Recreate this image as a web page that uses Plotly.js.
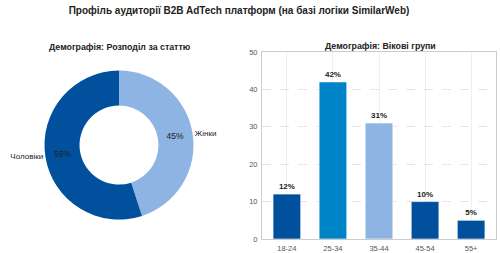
<!DOCTYPE html>
<html><head><meta charset="utf-8">
<script src="https://cdn.plot.ly/plotly-3.0.1.min.js"></script>
<style>html,body{margin:0;padding:0;background:#fff}#c{width:500px;height:253px}</style>
</head><body><div id="c"></div>
<script>
const genderLabels = ['Жінки', 'Чоловіки'];
const genderValues = [45, 55];
const genderColors = ['#8DB4E2', '#00509E'];

const ageGroups = ['18-24', '25-34', '35-44', '45-54', '55+'];
const ageValues = [12, 42, 31, 10, 5];
const ageColors = ['#00509E', '#0084C8', '#8DB4E2', '#00509E', '#00509E'];

const mainTitle = 'Профіль аудиторії B2B AdTech платформ (на базі логіки SimilarWeb)';
const pieTitle = 'Демографія: Розподіл за статтю';
const barTitle = 'Демографія: Вікові групи';

const FONT = 'Liberation Sans, Arial, sans-serif';
const pieDomain = {x: [0.089, 0.387], y: [0.132, 0.721]};

const traces = [
  {
    type: 'pie', labels: genderLabels, values: genderValues, sort: false,
    direction: 'clockwise', rotation: 0, hole: 0.53,
    domain: pieDomain,
    marker: {colors: genderColors},
    textinfo: 'percent', textposition: 'inside', insidetextorientation: 'horizontal',
    texttemplate: '%{percent:.0%}',
    insidetextfont: {family: FONT, size: 8.5, color: '#222'},
    showlegend: false, hoverinfo: 'skip'
  },
  {
    type: 'pie', labels: genderLabels, values: genderValues, sort: false,
    direction: 'clockwise', rotation: 0, hole: 0.53,
    domain: pieDomain,
    marker: {colors: ['rgba(0,0,0,0)', 'rgba(0,0,0,0)']},
    textinfo: 'label', textposition: 'outside',
    outsidetextfont: {family: FONT, size: 8, color: '#222'},
    showlegend: false, hoverinfo: 'skip'
  },
  {
    type: 'bar', x: ageGroups, y: ageValues, xaxis: 'x', yaxis: 'y',
    width: 0.6,
    marker: {color: ageColors, line: {color: 'rgba(255,255,255,0.6)', width: 1}},
    text: ageValues.map(v => '<b>' + v + '%</b>'), textposition: 'outside',
    textfont: {family: FONT, size: 8, color: '#222'}, cliponaxis: false,
    showlegend: false, hoverinfo: 'skip'
  }
];

const layout = {
  width: 500, height: 253,
  margin: {l: 0, r: 0, t: 0, b: 0},
  paper_bgcolor: '#fff', plot_bgcolor: '#fff',
  font: {family: FONT, color: '#222'},
  title: {text: '<b>' + mainTitle + '</b>', x: 0.478, xanchor: 'center', y: 0.957, yanchor: 'middle',
          font: {family: FONT, size: 10, color: '#222'}},
  xaxis: {
    domain: [0.524, 0.992], range: [-0.54, 4.54], type: 'category',
    showgrid: true, gridcolor: '#eeeeee', gridwidth: 1,
    showline: true, linecolor: '#cccccc', linewidth: 1, mirror: true,
    ticks: '', tickfont: {family: FONT, size: 7.5, color: '#555'}, ticklabelstandoff: 2,
    zeroline: false, fixedrange: true
  },
  yaxis: {
    domain: [0.0553, 0.7945], range: [0, 50], dtick: 10, tick0: 0,
    showgrid: true, gridcolor: '#e6e6e6', gridwidth: 1, griddash: 'dash',
    showline: true, linecolor: '#cccccc', linewidth: 1, mirror: true,
    ticks: '', tickfont: {family: FONT, size: 7.5, color: '#555'}, ticklabelstandoff: 2,
    zeroline: false, fixedrange: true
  },
  annotations: [
    {text: '<b>' + pieTitle + '</b>', xref: 'paper', yref: 'paper', x: 0.24, y: 0.814,
     xanchor: 'center', yanchor: 'middle', showarrow: false,
     font: {family: FONT, size: 8.8, color: '#222'}},
    {text: '<b>' + barTitle + '</b>', xref: 'paper', yref: 'paper', x: 0.76, y: 0.818,
     xanchor: 'center', yanchor: 'middle', showarrow: false,
     font: {family: FONT, size: 8.8, color: '#222'}}
  ]
};

Plotly.newPlot('c', traces, layout, {staticPlot: true, displayModeBar: false});
</script>
</body></html>
